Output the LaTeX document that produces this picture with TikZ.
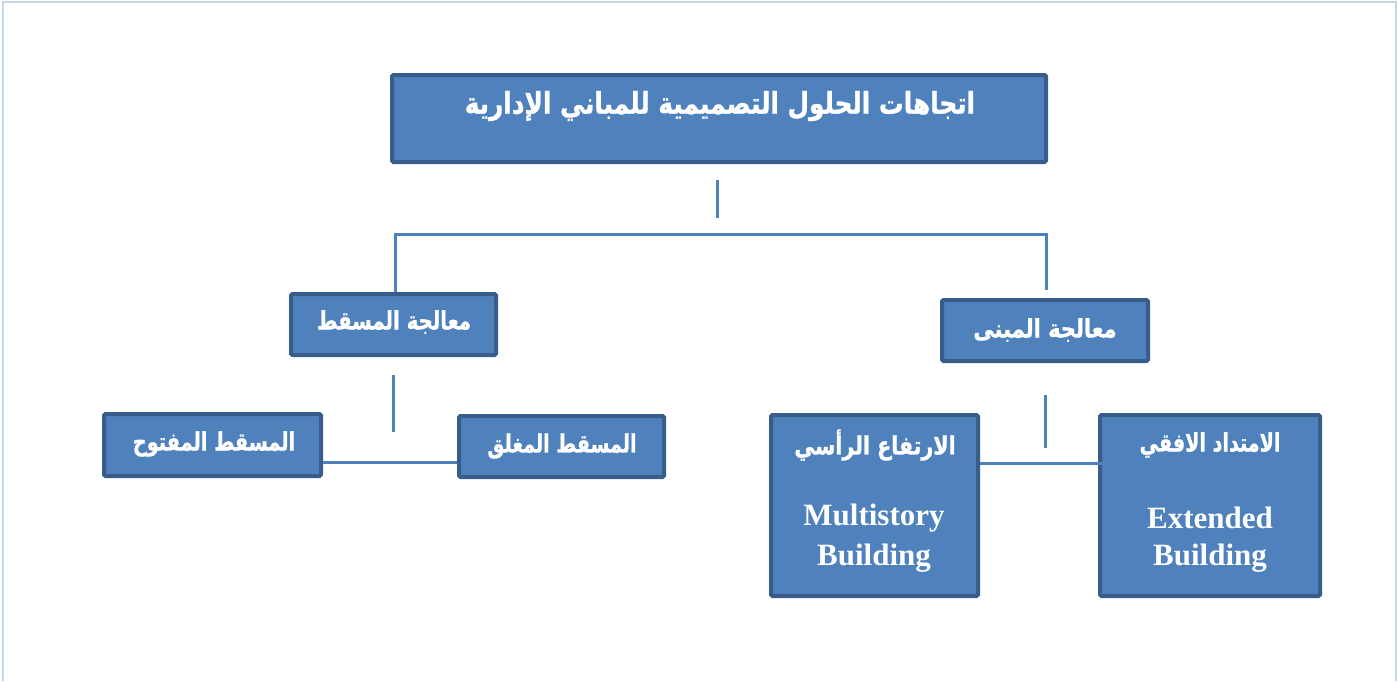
\documentclass[tikz,border=0pt]{standalone}
\usepackage{graphicx}
\usepackage{fontspec}
\setmainfont{Liberation Serif}
\newfontfamily\arabicfont[Script=Arabic,BoldFeatures={FakeBold=1.2}]{DejaVu Sans}
\TeXXeTstate=1
\newcommand\artxt[2]{\scalebox{#1}[1.2]{#2}}
\definecolor{boxfill}{HTML}{4F81BD}
\definecolor{boxedge}{HTML}{385D8A}
\definecolor{linkcol}{HTML}{4F81BD}
\definecolor{framecol}{HTML}{C6D5EA}
\begin{document}
\begin{tikzpicture}[x=1pt,y=-1pt,
  box/.style={draw=boxedge,line width=4pt,fill=boxfill,rounded corners=1.5pt,inner sep=0pt,rectangle},
  artext/.style={text=white,font=\arabicfont\bfseries\fontsize{21}{25}\selectfont,inner sep=0pt},
  entext/.style={text=white,font=\bfseries\fontsize{31}{36}\selectfont,inner sep=0pt},
  link/.style={draw=linkcol,line width=3pt}]
\useasboundingbox (0,0) rectangle (1398,681);
\draw[framecol,line width=2pt] (3,681) -- (3,2) -- (1396,2) -- (1396,681);
% boxes
\node[box,minimum width=654pt,minimum height=87pt] (top) at (719,118.5) {};
\node[box,minimum width=205pt,minimum height=61pt] (ms) at (393.5,324.5) {};
\node[box,minimum width=206pt,minimum height=61pt] (mb) at (1045,330.5) {};
\node[box,minimum width=217pt,minimum height=62pt] (mf) at (212.5,445) {};
\node[box,minimum width=205pt,minimum height=61pt] (mg) at (561.5,446.5) {};
\node[box,minimum width=207pt,minimum height=181pt] (rv) at (874.5,505.5) {};
\node[box,minimum width=220pt,minimum height=181pt] (hz) at (1210,505.5) {};
% texts
\node[artext,font=\arabicfont\bfseries\fontsize{25}{30}\selectfont] (ttop) at (720,106) {\artxt{0.99}{\beginR اتجاهات الحلول التصميمية للمباني الإدارية\endR}};
\node[artext] (tms) at (394,322) {\artxt{0.94}{\beginR معالجة المسقط\endR}};
\node[artext] (tmb) at (1045,330) {\artxt{1.0}{\beginR معالجة المبنى\endR}};
\node[artext] (tmf) at (214,444) {\artxt{0.92}{\beginR المسقط المفتوح\endR}};
\node[artext] (tmg) at (562,446) {\artxt{0.91}{\beginR المسقط المغلق\endR}};
\node[artext] (trv) at (875,445) {\artxt{0.98}{\beginR الارتفاع الرأسي\endR}};
\node[artext] (thz) at (1210,445) {\artxt{0.91}{\beginR الامتداد الافقي\endR}};
\node[entext] (erv1) at (874,518) {Multistory};
\node[entext] (erv2) at (874,558) {Building};
\node[entext] (ehz1) at (1210,518) {Extended};
\node[entext] (ehz2) at (1210,558) {Building};
% connectors
\coordinate (t1) at (717,180);
\coordinate (t2) at (717,218);
\coordinate (hl) at (395,234);
\coordinate (hr) at (1046,234);
\coordinate (lv1) at (393,375);
\coordinate (lv2) at (393,432);
\coordinate (rv1) at (1045,395);
\coordinate (rv2) at (1045,448);
\coordinate (rend) at (1112,463);
\draw[link] (t1) -- (t2);
\draw[link] (hl |- ms.north) -- (hl) -- (hr) -- (1046,290);
\draw[link] (lv1) -- (lv2);
\draw[link] (mf.east |- 0,462) -- (mg.west |- 0,462);
\draw[link] (rv1) -- (rv2);
\draw[link] (rv.east |- rend) -- (rend);
\end{tikzpicture}
\end{document}
